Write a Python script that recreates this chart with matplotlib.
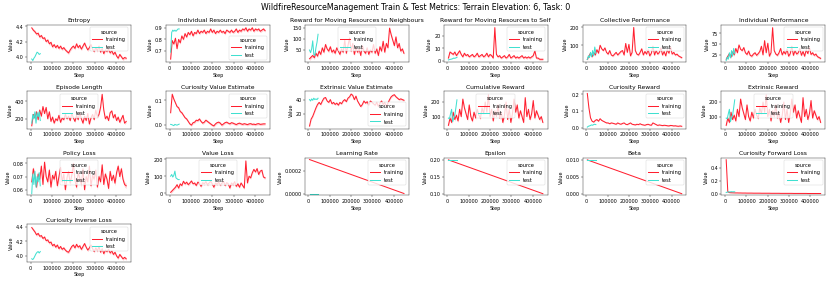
import matplotlib
matplotlib.use("Agg")
import matplotlib.pyplot as plt
import numpy as np

# ---------------- data ----------------
train_steps = list(range(5000, 450000, 7500))   # 60 logged steps
test_steps = list(range(5000, 50000, 5000))     # 9 logged steps
linear_train_steps = [5000, 447500]
linear_test_steps = [5000, 45000]

entropy_train = [4.38, 4.35, 4.33, 4.30, 4.31, 4.26, 4.28, 4.24, 4.25, 4.20,
                 4.22, 4.17, 4.19, 4.13, 4.16, 4.12, 4.15, 4.11, 4.14, 4.10,
                 4.12, 4.09, 4.07, 4.05, 4.09, 4.12, 4.14, 4.11, 4.17, 4.12,
                 4.15, 4.10, 4.14, 4.18, 4.13, 4.09, 4.12, 4.16, 4.10, 4.07,
                 4.12, 4.08, 4.14, 4.06, 4.11, 4.04, 4.09, 4.07, 4.10, 4.05,
                 4.08, 4.03, 4.06, 4.01, 3.98, 4.03, 4.00, 3.97, 3.99, 3.98]
entropy_test = [3.97, 3.95, 3.98, 4.00, 4.03, 4.06, 4.05, 4.03, 4.04]

resource_count_train = [0.63, 0.79, 0.76, 0.81, 0.72, 0.80, 0.77, 0.83, 0.80, 0.85,
                        0.82, 0.86, 0.84, 0.87, 0.83, 0.86, 0.85, 0.88, 0.85, 0.87,
                        0.86, 0.88, 0.85, 0.87, 0.86, 0.89, 0.86, 0.88, 0.85, 0.87,
                        0.86, 0.88, 0.86, 0.87, 0.85, 0.88, 0.87, 0.86, 0.88, 0.86,
                        0.87, 0.89, 0.86, 0.88, 0.87, 0.89, 0.88, 0.90, 0.87, 0.89,
                        0.88, 0.90, 0.87, 0.89, 0.88, 0.89, 0.87, 0.88, 0.89, 0.875]
resource_count_test = [0.69, 0.86, 0.88, 0.87, 0.88, 0.87, 0.88, 0.89, 0.89]

reward_neigh_train = [10, 18, 25, 15, 35, 22, 45, 30, 60, 40,
                      75, 55, 45, 65, 40, 50, 35, 60, 45, 30,
                      55, 40, 95, 35, 70, 105, 45, 80, 30, 60,
                      40, 55, 25, 70, 45, 35, 60, 30, 50, 40,
                      75, 35, 55, 25, 65, 45, 90, 40, 80, 60,
                      150, 120, 95, 70, 110, 60, 80, 45, 55, 35]
reward_neigh_test = [50, 38, 55, 92, 30, 25, 60, 85, 122]

reward_self_train = [2, 7, 6, 5, 7, 4, 6, 8, 5, 3,
                     6, 4, 5, 3, 4, 5, 3, 4, 6, 3,
                     4, 5, 3, 4, 6, 3, 5, 4, 2, 27,
                     5, 3, 4, 2, 3, 4, 2, 3, 5, 2,
                     3, 4, 2, 3, 2, 3, 4, 2, 3, 2,
                     3, 2, 3, 4, 8, 2, 2, 1, 1, 1]
reward_self_test = [0.5, 0.8, 1.0, 1.2, 1.5, 2.0, 1.8, 2.2, 2.5]

collective_train = [20, 40, 55, 35, 60, 45, 75, 55, 100, 80,
                    70, 85, 60, 50, 70, 45, 40, 50, 60, 45,
                    55, 65, 70, 45, 110, 60, 105, 40, 60, 200,
                    70, 50, 45, 60, 80, 45, 65, 50, 75, 40,
                    55, 95, 45, 70, 50, 60, 85, 45, 65, 40,
                    75, 55, 90, 50, 60, 45, 50, 40, 35, 30]
collective_test = [20, 40, 30, 60, 35, 70, 40, 90, 55]

individual_train = [15, 22, 28, 20, 32, 25, 40, 30, 48, 38,
                    35, 42, 30, 26, 34, 24, 22, 27, 30, 24,
                    28, 33, 45, 25, 58, 30, 52, 22, 30, 88,
                    35, 27, 24, 30, 40, 25, 33, 27, 38, 22,
                    28, 45, 24, 35, 27, 30, 40, 24, 33, 22,
                    37, 28, 42, 26, 30, 24, 27, 21, 19, 17]
individual_test = [12, 20, 15, 30, 18, 35, 22, 40, 28]

episode_len_train = [120, 250, 210, 280, 190, 300, 230, 340, 260, 330,
                     200, 280, 170, 220, 150, 200, 180, 240, 160, 210,
                     190, 250, 200, 230, 180, 260, 210, 170, 240, 190,
                     270, 200, 150, 230, 180, 260, 140, 210, 250, 190,
                     300, 220, 250, 330, 480, 300, 200, 230, 180, 270,
                     290, 210, 250, 180, 220, 160, 200, 240, 150, 170]
episode_len_test = [150, 250, 200, 280, 150, 270, 220, 280, 180]

cur_value_train = [0.05, 0.125, 0.105, 0.09, 0.075, 0.07, 0.055, 0.05, 0.04, 0.03,
                   0.025, 0.015, 0.005, 0.0, 0.01, 0.012, 0.02, 0.018, 0.025, 0.015,
                   0.008, 0.012, 0.02, 0.015, 0.01, 0.005, 0.0, -0.003, 0.005, 0.01,
                   0.012, 0.008, 0.0, 0.005, 0.01, 0.012, 0.008, 0.005, 0.01, 0.008,
                   0.005, 0.002, 0.006, 0.008, 0.005, 0.003, 0.006, 0.004, 0.002, 0.005,
                   0.006, 0.003, 0.004, 0.002, 0.005, 0.006, 0.003, 0.004, 0.005, 0.005]
cur_value_test = [0.003, 0.002, 0.0, -0.002, 0.003, 0.001, 0.0, 0.002, 0.004]

ext_value_train = [2, 12, 16, 22, 28, 33, 36, 33, 38, 42,
                   43, 38, 36, 40, 34, 36, 33, 35, 32, 36,
                   34, 38, 40, 37, 42, 44, 48, 46, 40, 45,
                   38, 34, 30, 33, 38, 35, 37, 32, 38, 36,
                   34, 32, 36, 30, 35, 38, 33, 36, 30, 35,
                   40, 44, 46, 47, 44, 42, 40, 41, 40, 39]
ext_value_test = [40, 38, 41, 39, 42, 40, 41, 40, 42]

cumulative_train = [40, 90, 60, 130, 80, 110, 70, 150, 100, 220,
                    160, 120, 80, 180, 100, 70, 130, 90, 150, 110,
                    90, 160, 120, 200, 130, 250, 100, 150, 70, 140,
                    100, 180, 90, 130, 60, 110, 200, 80, 150, 60,
                    120, 220, 130, 180, 90, 140, 100, 60, 230, 100,
                    150, 80, 120, 210, 90, 140, 110, 80, 100, 60]
cumulative_test = [90, 85, 120, 150, 65, 90, 110, 160, 215]

cur_reward_train = [0.205, 0.12, 0.06, 0.04, 0.035, 0.045, 0.05, 0.04, 0.055, 0.045,
                    0.04, 0.035, 0.03, 0.03, 0.025, 0.03, 0.028, 0.025, 0.022, 0.03,
                    0.025, 0.022, 0.027, 0.03, 0.022, 0.02, 0.025, 0.03, 0.022, 0.02,
                    0.018, 0.022, 0.02, 0.025, 0.02, 0.018, 0.016, 0.02, 0.022, 0.018,
                    0.016, 0.03, 0.025, 0.02, 0.015, 0.018, 0.016, 0.014, 0.016, 0.015,
                    0.013, 0.012, 0.015, 0.014, 0.012, 0.013, 0.011, 0.01, 0.012, 0.01]
cur_reward_test = [0.005, 0.01, 0.012, 0.015, 0.018, 0.016, 0.02, 0.022, 0.02]

ext_reward_train = list(cumulative_train)
ext_reward_test = list(cumulative_test)

policy_loss_train = [0.066, 0.076, 0.07, 0.062, 0.072, 0.068, 0.078, 0.064, 0.081, 0.07,
                     0.066, 0.075, 0.062, 0.071, 0.068, 0.074, 0.063, 0.07, 0.077, 0.066,
                     0.072, 0.06, 0.069, 0.074, 0.065, 0.071, 0.08, 0.067, 0.062, 0.073,
                     0.069, 0.064, 0.076, 0.06, 0.07, 0.066, 0.078, 0.063, 0.071, 0.068,
                     0.075, 0.062, 0.07, 0.066, 0.079, 0.064, 0.072, 0.068, 0.061, 0.074,
                     0.067, 0.071, 0.065, 0.073, 0.078, 0.07, 0.076, 0.068, 0.064, 0.063]
policy_loss_test = [0.057, 0.072, 0.064, 0.074, 0.062, 0.07, 0.066, 0.073, 0.063]

value_loss_train = [5, 15, 25, 35, 50, 30, 55, 45, 70, 55,
                    65, 50, 60, 72, 55, 60, 45, 65, 58, 40,
                    62, 55, 68, 50, 60, 70, 55, 35, 60, 52,
                    65, 48, 58, 70, 45, 62, 55, 30, 60, 50,
                    68, 40, 55, 35, 60, 45, 30, 190, 60, 100,
                    90, 120, 140, 125, 145, 110, 130, 135, 95, 90]
value_loss_test = [100, 110, 95, 105, 130, 90, 85, 80, 80]

lr_train = [0.000297, 0.0000017]
lr_test = [0.0, 0.0]
epsilon_train = [0.199, 0.1005]
epsilon_test = [0.2, 0.2]
beta_train = [0.0099, 0.00005]
beta_test = [0.01, 0.01]

fwd_loss_train = [0.53, 0.03, 0.018, 0.016, 0.015, 0.014, 0.013, 0.013, 0.012, 0.012,
                  0.011, 0.011, 0.011, 0.010, 0.010, 0.010, 0.010, 0.009, 0.009, 0.009,
                  0.009, 0.009, 0.008, 0.008, 0.008, 0.008, 0.008, 0.008, 0.007, 0.007,
                  0.007, 0.007, 0.007, 0.007, 0.006, 0.006, 0.006, 0.006, 0.006, 0.006,
                  0.006, 0.006, 0.005, 0.005, 0.005, 0.005, 0.005, 0.005, 0.005, 0.005,
                  0.005, 0.004, 0.004, 0.004, 0.004, 0.004, 0.004, 0.004, 0.004, 0.004]
fwd_loss_test = [0.02, 0.025, 0.03, 0.028, 0.03, 0.032, 0.03, 0.031, 0.03]

inv_loss_train = [4.39, 4.36, 4.33, 4.29, 4.31, 4.27, 4.28, 4.24, 4.26, 4.21,
                  4.22, 4.18, 4.19, 4.14, 4.16, 4.12, 4.15, 4.10, 4.13, 4.09,
                  4.11, 4.08, 4.06, 4.05, 4.09, 4.13, 4.15, 4.11, 4.16, 4.12,
                  4.14, 4.09, 4.13, 4.17, 4.12, 4.08, 4.11, 4.15, 4.10, 4.06,
                  4.11, 4.07, 4.13, 4.05, 4.10, 4.03, 4.08, 4.06, 4.09, 4.04,
                  4.07, 4.02, 4.05, 4.00, 3.97, 4.02, 3.99, 3.96, 3.98, 3.96]
inv_loss_test = [3.96, 3.95, 3.97, 4.00, 4.03, 4.05, 4.06, 4.04, 4.06]

# approximate confidence-band half widths of the training curves
band_halfwidth = {
    "Entropy": 0.02, "Individual Resource Count": 0.012,
    "Reward for Moving Resources to Neighbours": 8,
    "Reward for Moving Resources to Self": 1.0,
    "Collective Performance": 6, "Individual Performance": 3,
    "Episode Length": 15, "Curiosity Value Estimate": 0.005,
    "Extrinsic Value Estimate": 1.5, "Cumulative Reward": 12,
    "Curiosity Reward": 0.003, "Extrinsic Reward": 12,
    "Policy Loss": 0.002, "Value Loss": 8, "Learning Rate": 0.0,
    "Epsilon": 0.0, "Beta": 0.0, "Curiosity Forward Loss": 0.003,
    "Curiosity Inverse Loss": 0.02,
}

panels = [
    ("Entropy", train_steps, entropy_train, test_steps, entropy_test),
    ("Individual Resource Count", train_steps, resource_count_train, test_steps, resource_count_test),
    ("Reward for Moving Resources to Neighbours", train_steps, reward_neigh_train, test_steps, reward_neigh_test),
    ("Reward for Moving Resources to Self", train_steps, reward_self_train, test_steps, reward_self_test),
    ("Collective Performance", train_steps, collective_train, test_steps, collective_test),
    ("Individual Performance", train_steps, individual_train, test_steps, individual_test),
    ("Episode Length", train_steps, episode_len_train, test_steps, episode_len_test),
    ("Curiosity Value Estimate", train_steps, cur_value_train, test_steps, cur_value_test),
    ("Extrinsic Value Estimate", train_steps, ext_value_train, test_steps, ext_value_test),
    ("Cumulative Reward", train_steps, cumulative_train, test_steps, cumulative_test),
    ("Curiosity Reward", train_steps, cur_reward_train, test_steps, cur_reward_test),
    ("Extrinsic Reward", train_steps, ext_reward_train, test_steps, ext_reward_test),
    ("Policy Loss", train_steps, policy_loss_train, test_steps, policy_loss_test),
    ("Value Loss", train_steps, value_loss_train, test_steps, value_loss_test),
    ("Learning Rate", linear_train_steps, lr_train, linear_test_steps, lr_test),
    ("Epsilon", linear_train_steps, epsilon_train, linear_test_steps, epsilon_test),
    ("Beta", linear_train_steps, beta_train, linear_test_steps, beta_test),
    ("Curiosity Forward Loss", train_steps, fwd_loss_train, test_steps, fwd_loss_test),
    ("Curiosity Inverse Loss", train_steps, inv_loss_train, test_steps, inv_loss_test),
]

# ---------------- layout / style ----------------
legend_loc = {
    "Individual Resource Count": "lower right",
    "Reward for Moving Resources to Neighbours": "upper center",
    "Episode Length": "upper center",
    "Extrinsic Value Estimate": "lower right",
    "Cumulative Reward": "upper center",
    "Extrinsic Reward": "upper center",
    "Policy Loss": "upper center",
    "Value Loss": "upper center",
}
yticks = {
    "Entropy": [4.0, 4.2, 4.4],
    "Individual Resource Count": [0.7, 0.8, 0.9],
    "Reward for Moving Resources to Neighbours": [50, 100, 150],
    "Reward for Moving Resources to Self": [0, 10, 20],
    "Collective Performance": [100, 200],
    "Individual Performance": [25, 50, 75],
    "Episode Length": [200, 400],
    "Curiosity Value Estimate": [0.0, 0.1],
    "Extrinsic Value Estimate": [20, 40],
    "Cumulative Reward": [100, 200],
    "Curiosity Reward": [0.0, 0.1, 0.2],
    "Extrinsic Reward": [100, 200],
    "Policy Loss": [0.06, 0.07, 0.08],
    "Value Loss": [0, 100, 200],
    "Learning Rate": [0.0, 0.0002],
    "Epsilon": [0.10, 0.15, 0.20],
    "Beta": [0.0, 0.005, 0.010],
    "Curiosity Forward Loss": [0.0, 0.2, 0.4],
    "Curiosity Inverse Loss": [4.0, 4.2, 4.4],
}
ytick_fmt = {
    "Learning Rate": "{:.4f}", "Epsilon": "{:.2f}", "Beta": "{:.3f}",
    "Policy Loss": "{:.2f}", "Curiosity Value Estimate": "{:.1f}",
    "Curiosity Reward": "{:.1f}", "Curiosity Forward Loss": "{:.1f}",
    "Entropy": "{:.1f}", "Curiosity Inverse Loss": "{:.1f}",
    "Individual Resource Count": "{:.1f}",
}

TRAIN_C = "#ff1f2f"
TEST_C = "#40e0d0"

plt.rcParams.update({
    "axes.titlesize": 13,
    "xtick.labelsize": 10.5,
    "ytick.labelsize": 10.5,
    "axes.labelsize": 10.5,
    "legend.fontsize": 11,
    "legend.title_fontsize": 11,
})

DPI = 100 / 3
fig, axes = plt.subplots(4, 6, figsize=(24.94, 8.50), dpi=DPI)
fig.subplots_adjust(left=0.0325, right=0.9928, top=0.9117, bottom=0.0742,
                    wspace=0.337, hspace=0.773)

flat = axes.ravel()
for i, (title, xs_tr, ys_tr, xs_te, ys_te) in enumerate(panels):
    ax = flat[i]
    xs_tr = np.asarray(xs_tr)
    ys_tr = np.asarray(ys_tr, dtype=float)
    hw = band_halfwidth[title]
    if hw > 0:
        ax.fill_between(xs_tr, ys_tr - hw, ys_tr + hw, color=TRAIN_C,
                        alpha=0.2, linewidth=0)
    ax.plot(xs_tr, ys_tr, color=TRAIN_C, lw=2.2, label="training")
    ax.plot(xs_te, ys_te, color=TEST_C, lw=2.2, label="test")
    ax.set_title(title)
    ax.set_xlabel("Step")
    ax.set_ylabel("Value")
    ax.set_xticks([0, 100000, 200000, 300000, 400000])
    ax.set_xticklabels(["0", "100000", "200000", "300000", "400000"])
    yt = yticks[title]
    ax.set_yticks(yt)
    fmt = ytick_fmt.get(title)
    if fmt:
        ax.set_yticklabels([fmt.format(v) for v in yt])
    else:
        ax.set_yticklabels([str(v) for v in yt])
    ax.legend(title="source", loc=legend_loc.get(title, "upper right"))

for j in range(len(panels), len(flat)):
    flat[j].axis("off")

fig.suptitle("WildfireResourceManagement Train & Test Metrics: Terrain Elevation: 6, Task: 0",
             fontsize=17, y=0.99)

fig.savefig("out.png", dpi=DPI)
